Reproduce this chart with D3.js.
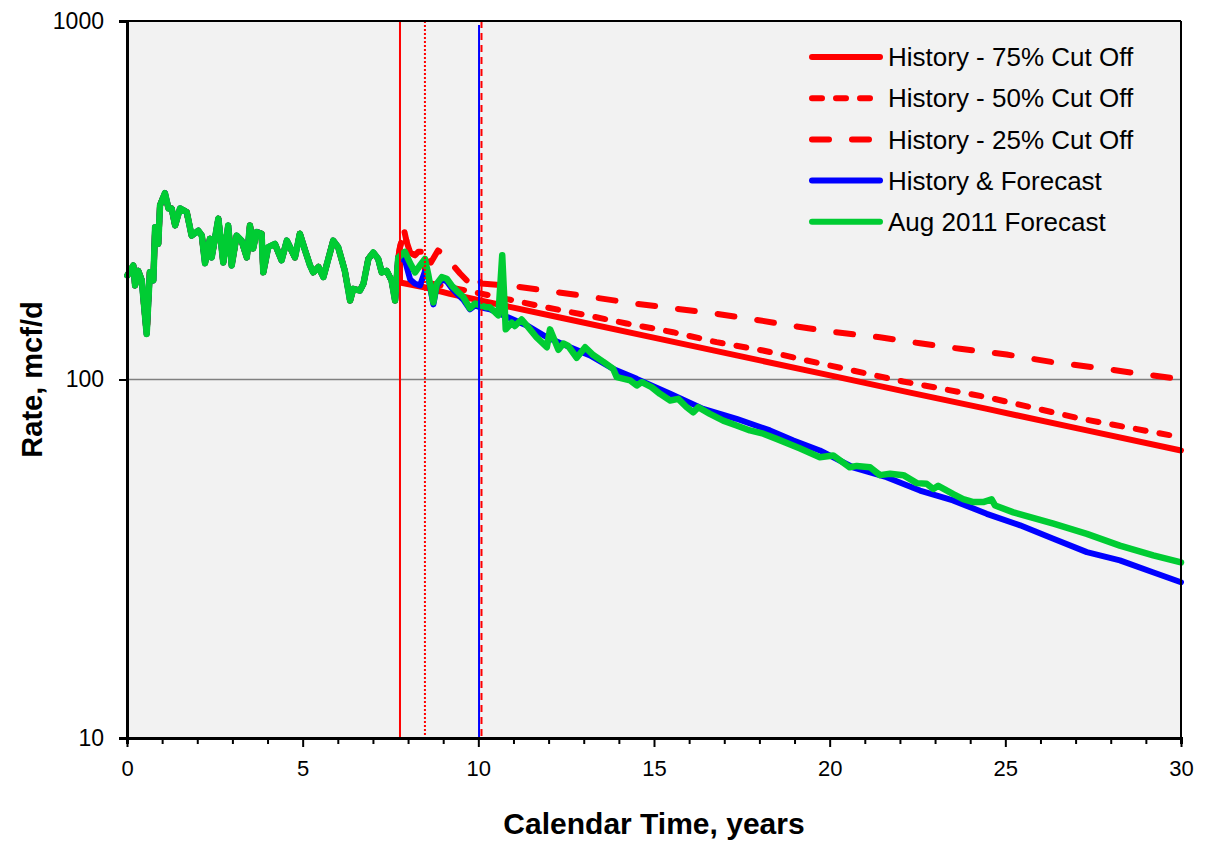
<!DOCTYPE html>
<html><head><meta charset="utf-8">
<script src="https://cdn.jsdelivr.net/npm/d3@7"></script>
<style>body{margin:0;background:#fff}text{font-family:"Liberation Sans",Arial,sans-serif}</style>
</head><body><svg id="c" width="1209" height="841"></svg>
<script>
// ---------- data ----------
const historyYears = [0.01,0.18,0.23,0.32,0.42,0.56,0.65,0.75,0.80,0.89,0.94,1.08,1.18,1.27,1.37,1.51,1.70,1.84,2.03,2.13,2.22,2.36,2.41,2.60,2.74,2.88,2.98,3.12,3.26,3.41,3.50,3.59,3.69,3.83,3.88,4.02,4.21,4.40,4.55,4.78,4.92,5.07,5.21,5.30,5.45,5.59,5.87,6.01,6.20,6.35,6.44,6.63,6.73,6.87,7.01,7.15,7.25,7.39,7.53,7.63,7.72];
const historyRates = [195,208,183,201,189,134,199,189,266,239,306,331,300,300,269,300,293,252,260,252,211,247,219,281,212,269,208,252,244,219,269,232,258,255,199,234,239,215,244,219,255,229,208,199,206,193,244,234,201,166,179,177,185,217,226,217,199,201,189,166,219];

const greenYears = [7.91,8.06,8.20,8.34,8.48,8.58,8.72,8.82,8.96,9.10,9.24,9.38,9.57,9.76,9.91,10.05,10.24,10.33,10.57,10.68,10.78,10.95,11.04,11.23,11.42,11.66,11.95,12.04,12.28,12.42,12.56,12.80,13.04,13.27,13.56,13.84,13.94,14.32,14.51,14.65,14.93,15.17,15.46,15.69,15.93,16.12,16.26,16.59,16.97,17.35,17.73,18.11,18.49,19.16,19.72,20.10,20.57,20.77,21.15,21.43,21.72,22.10,22.48,22.76,22.95,23.09,23.52,23.80,24.09,24.37,24.61,24.71,25.23,26.37,27.32,28.26,29.21,30.0];
const greenRates = [227,211,199,208,217,195,164,185,193,191,183,177,170,158,163,161,159,159,151,222,138,144,141,147,140,131,123,138,121,126,124,115,123,117,112,107,101.5,99.4,96.2,98.3,95.2,91.2,87.4,88.3,83.7,81.0,83.7,80.2,76.8,74.4,72.1,70.6,68.3,64.2,60.7,61.4,56.9,57.4,56.9,54.1,54.6,54.1,51.4,51.2,49.5,50.5,47.9,46.4,45.5,45.5,46.3,44.5,42.6,39.6,37.1,34.4,32.3,30.9];

const blueYears = [7.91,8.06,8.20,8.34,8.48,8.58,8.72,8.82,8.96,9.10,9.24,9.38,9.57,9.76,9.91,10.05,10.33,10.71,11.38,11.95,12.61,13.18,13.84,14.51,15.46,16.40,17.35,18.30,18.97,19.72,20.66,21.62,22.57,23.51,24.47,25.42,26.35,27.32,28.26,29.20,30.0];
const blueRates = [215,190,185,183,200,192,162,183,190,188,180,174,167,157,161,159,157,151,141.5,131.2,123.1,116.7,107,100.4,91.2,82.8,77.7,72.1,67.6,63.4,56.9,53.4,49.0,46.0,42.2,39.2,36.0,33.0,31.3,29.0,27.2];

const cut75Years = [7.77,7.77,8.53,9.19,10.05,12.32,14.89,17.45,20.01,22.29,24.48,27.12,30.0];
const cut75Rates = [219,186.5,180.3,173.4,166.1,148.9,131.5,116.2,102.7,91.9,82.8,72.8,63.4];

const cutHighYears = [7.77,7.89,7.96,8.06,8.20,8.29,8.43];
const cutHighRates = [234,260,242,226,222,227,227];

const cut50Years = [8.51,10.33,11.66,12.98,14.22,15.54,16.78,18.10,19.35,20.01,22.09,24.47,27.13,30.0];
const cut50Rates = [186.5,171.6,160.9,151.8,143.3,135.5,127.1,120.5,113.0,109.4,98.7,89.3,77.8,69.0];

const cut25Years = [8.65,8.85,9.00,9.48,9.67,9.76,10.05,10.08,11.09,12.23,13.37,14.51,15.65,16.78,17.92,19.06,20.01,21.43,22.57,23.71,25.04,26.37,27.50,28.64,30.0];
const cut25Rates = [212,229,224,197.6,189,179,188,185.2,181.7,175.3,169.0,162.6,157.5,152.5,146.7,140.6,136.1,131.2,126.2,121.8,117.4,111.7,108.2,104.4,100.2];

const cutoffYears = [7.77, 8.48, 10.02, 10.09];
const xTicks = [0,5,10,15,20,25,30];
const yTicks = [10,100,1000];
const legendLabels = ["History - 75% Cut Off","History - 50% Cut Off","History - 25% Cut Off","History & Forecast","Aug 2011 Forecast"];

// ---------- layout ----------
const L=127, R=1181, T=21, B=738;
const RED="#ff0000", BLUE="#0000ff", GREEN="#00cc33";
const svg=d3.select("#c");
const x=d3.scaleLinear().domain([0,30]).range([L,R]);
const y=d3.scaleLog().domain([10,1000]).range([B,T]);

svg.append("rect").attr("x",L).attr("y",T).attr("width",R-L).attr("height",B-T).attr("fill","#f2f2f2");
svg.append("line").attr("x1",L).attr("x2",R).attr("y1",y(100)).attr("y2",y(100)).attr("stroke","#808080").attr("stroke-width",1.5);

const zip=(a,b)=>a.map((v,i)=>[v,b[i]]);
const line=d3.line().x(d=>x(d[0])).y(d=>y(d[1]));
const hist=zip(historyYears,historyRates);

const DASH50="10,14", DASH25="17,23";
const series=[
  {pts:hist.concat(zip(cutHighYears,cutHighRates),zip(cut25Years,cut25Rates)),c:RED,dash:DASH25,w:6},
  {pts:hist.concat(zip(cutHighYears,cutHighRates),zip(cut50Years,cut50Rates)),c:RED,dash:DASH50,w:6},
  {pts:hist.concat(zip(cut75Years,cut75Rates)),c:RED,dash:null,w:6},
  {pts:hist.concat(zip(blueYears,blueRates)),c:BLUE,dash:null,w:6},
  {pts:hist.concat(zip(greenYears,greenRates)),c:GREEN,dash:null,w:6.5}
];
const plot=svg.append("g");
series.forEach(s=>{
  plot.append("path").attr("d",line(s.pts)).attr("fill","none").attr("stroke",s.c)
    .attr("stroke-width",s.w).attr("stroke-linejoin","round").attr("stroke-linecap","round")
    .attr("stroke-dasharray",s.dash);
});

const vstyle=[{c:RED,d:null,t:T},{c:RED,d:"2,2",t:T},{c:BLUE,d:null,t:T+4},{c:RED,d:"7,5",t:T}];
cutoffYears.forEach((v,i)=>{
  svg.append("line").attr("x1",x(v)).attr("x2",x(v)).attr("y1",vstyle[i].t).attr("y2",B)
    .attr("stroke",vstyle[i].c).attr("stroke-width",2).attr("stroke-dasharray",vstyle[i].d);
});

svg.append("line").attr("x1",L).attr("x2",R).attr("y1",T).attr("y2",T).attr("stroke","#000").attr("stroke-width",2);
svg.append("line").attr("x1",R).attr("x2",R).attr("y1",T).attr("y2",B).attr("stroke","#000").attr("stroke-width",2);

const xAxis=d3.axisBottom(x).tickValues(d3.range(0,31,1)).tickSize(6).tickFormat(d=>xTicks.includes(d)?d:"");
const gx=svg.append("g").attr("transform",`translate(0,${B})`).call(xAxis);
gx.select(".domain").attr("stroke","#000").attr("stroke-width",3);
gx.selectAll(".tick line").attr("stroke","#000").attr("stroke-width",2).attr("y2",d=>d%5===0?9:6);
gx.selectAll(".tick text").attr("font-size",22).attr("fill","#000").attr("y",22).attr("dy","0.71em").style("font-family","Liberation Sans, Arial");

const yAxis=d3.axisLeft(y).tickValues(yTicks).tickSize(8).tickFormat(d3.format("d"));
const gy=svg.append("g").attr("transform",`translate(${L},0)`).call(yAxis);
gy.select(".domain").attr("stroke","#000").attr("stroke-width",3);
gy.selectAll(".tick line").attr("stroke","#000").attr("stroke-width",2);
gy.selectAll(".tick text").attr("font-size",23).attr("fill","#000").attr("x",-23).style("font-family","Liberation Sans, Arial");

svg.append("text").attr("x",(L+R)/2).attr("y",834).attr("text-anchor","middle").attr("font-size",30).attr("font-weight","bold").text("Calendar Time, years");
svg.append("text").attr("transform",`translate(42,${(T+B)/2}) rotate(-90)`).attr("text-anchor","middle").attr("font-size",29).attr("font-weight","bold").text("Rate, mcf/d");

const lg=svg.append("g");
const legStyles=[{c:RED,d:null},{c:RED,d:DASH50},{c:RED,d:DASH25},{c:BLUE,d:null},{c:GREEN,d:null}];
legendLabels.forEach((lab,i)=>{
  const yy=57+i*41.2;
  lg.append("line").attr("x1",812).attr("x2",880).attr("y1",yy).attr("y2",yy).attr("stroke",legStyles[i].c)
    .attr("stroke-width",6).attr("stroke-linecap","round").attr("stroke-dasharray",legStyles[i].d);
  lg.append("text").attr("x",888).attr("y",yy).attr("dy","0.35em").attr("font-size",26).attr("fill","#000").text(lab);
});
</script></body></html>
